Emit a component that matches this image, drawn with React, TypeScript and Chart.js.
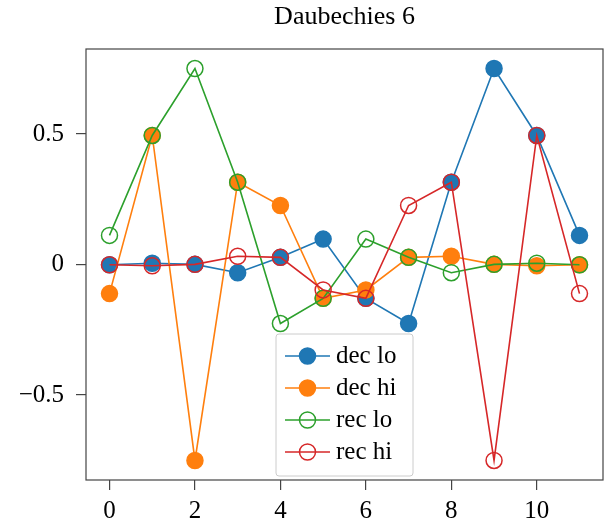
import { useEffect, useRef } from 'react';
import { Chart, registerables } from 'chart.js';

Chart.register(...registerables);

const TITLE = 'Daubechies 6';
const indices = [0, 1, 2, 3, 4, 5, 6, 7, 8, 9, 10, 11];
const xTicks = [0, 2, 4, 6, 8, 10];
const yTicks = [-0.5, 0, 0.5];

const decLo = [-0.0011, 0.0048, 0.0006, -0.0316, 0.0275, 0.0975, -0.1298, -0.2263, 0.3153, 0.7511, 0.4946, 0.1115];
const decHi = [-0.1115, 0.4946, -0.7511, 0.3153, 0.2263, -0.1298, -0.0975, 0.0275, 0.0316, 0.0006, -0.0048, -0.0011];
const recLo = [0.1115, 0.4946, 0.7511, 0.3153, -0.2263, -0.1298, 0.0975, 0.0275, -0.0316, 0.0006, 0.0048, -0.0011];
const recHi = [-0.0011, -0.0048, 0.0006, 0.0316, 0.0275, -0.0975, -0.1298, 0.2263, 0.3153, -0.7511, 0.4946, -0.1115];

const seriesNames = ['dec lo', 'dec hi', 'rec lo', 'rec hi'];
const seriesValues = [decLo, decHi, recLo, recHi];
const seriesColors = ['#1f77b4', '#ff7f0e', '#2ca02c', '#d62728'];
const seriesFilled = [true, true, false, false];

const FONT = "'Liberation Serif', 'Times New Roman', serif";
const FRAME = '#444';

const fmt = (v: number) => (v === 0 ? '0' : String(v).replace('-', '\u2212'));

const titlePlugin = {
  id: 'titleP',
  afterDraw(chart: any) {
    const { ctx, chartArea } = chart;
    ctx.save();
    ctx.fillStyle = '#000';
    ctx.font = `26px ${FONT}`;
    ctx.textAlign = 'center';
    ctx.textBaseline = 'alphabetic';
    ctx.fillText(TITLE, (chartArea.left + chartArea.right) / 2, 24);
    ctx.restore();
  },
};

const framePlugin = {
  id: 'frameP',
  afterDatasetsDraw(chart: any) {
    const { ctx, chartArea } = chart;
    ctx.save();
    ctx.strokeStyle = FRAME;
    ctx.lineWidth = 1.2;
    ctx.strokeRect(chartArea.left, chartArea.top, chartArea.right - chartArea.left, chartArea.bottom - chartArea.top);
    ctx.restore();
  },
};

const legendPlugin = {
  id: 'legendP',
  afterDraw(chart: any) {
    const { ctx, chartArea } = chart;
    const w = 137;
    const h = 142;
    const cx = (chartArea.left + chartArea.right) / 2;
    const x0 = cx - w / 2;
    const y0 = chartArea.bottom - 4 - h;
    ctx.save();
    ctx.beginPath();
    const r = 3;
    ctx.moveTo(x0 + r, y0);
    ctx.arcTo(x0 + w, y0, x0 + w, y0 + h, r);
    ctx.arcTo(x0 + w, y0 + h, x0, y0 + h, r);
    ctx.arcTo(x0, y0 + h, x0, y0, r);
    ctx.arcTo(x0, y0, x0 + w, y0, r);
    ctx.closePath();
    ctx.fillStyle = 'rgba(255,255,255,0.8)';
    ctx.fill();
    ctx.strokeStyle = '#cccccc';
    ctx.lineWidth = 1;
    ctx.stroke();
    seriesNames.forEach((name, i) => {
      const yy = y0 + 22 + i * 32;
      const lx0 = x0 + 9;
      const lx1 = x0 + 54;
      ctx.strokeStyle = seriesColors[i];
      ctx.lineWidth = 1.5;
      ctx.beginPath();
      ctx.moveTo(lx0, yy);
      ctx.lineTo(lx1, yy);
      ctx.stroke();
      ctx.beginPath();
      ctx.arc((lx0 + lx1) / 2, yy, 8, 0, Math.PI * 2);
      if (seriesFilled[i]) {
        ctx.fillStyle = seriesColors[i];
        ctx.fill();
      }
      ctx.stroke();
      ctx.fillStyle = '#000';
      ctx.font = `25px ${FONT}`;
      ctx.textAlign = 'left';
      ctx.textBaseline = 'middle';
      ctx.fillText(name, x0 + 60, yy);
    });
    ctx.restore();
  },
};

export default function App() {
  const ref = useRef<HTMLCanvasElement | null>(null);
  useEffect(() => {
    if (!ref.current) return;
    const datasets = seriesNames.map((name, i) => ({
      label: name,
      data: indices.map((x, k) => ({ x, y: seriesValues[i][k] })),
      borderColor: seriesColors[i],
      backgroundColor: seriesColors[i],
      borderWidth: 1.6,
      pointRadius: 8,
      pointHoverRadius: 8,
      pointBorderWidth: 1.5,
      pointBackgroundColor: seriesFilled[i] ? seriesColors[i] : 'rgba(0,0,0,0)',
      pointBorderColor: seriesColors[i],
      tension: 0,
      fill: false,
      order: seriesNames.length - 1 - i,
    }));
    const chart = new Chart(ref.current, {
      type: 'line',
      data: { datasets },
      plugins: [titlePlugin, framePlugin, legendPlugin],
      options: {
        responsive: false,
        animation: false,
        layout: { autoPadding: false, padding: { top: 49, right: 4, left: 0, bottom: 0 } },
        plugins: { legend: { display: false }, tooltip: { enabled: false }, title: { display: false } },
        scales: {
          x: {
            type: 'linear',
            min: -0.55,
            max: 11.55,
            afterFit: (s: any) => { s.height = 43; s.paddingLeft = 0; s.paddingRight = 0; },
            afterBuildTicks: (s: any) => { s.ticks = xTicks.map((v) => ({ value: v })); },
            ticks: { color: '#000', font: { family: FONT, size: 25 }, padding: 6, maxRotation: 0, callback: (v: any) => fmt(Number(v)) },
            grid: { display: true, drawOnChartArea: false, drawTicks: true, tickLength: 10, color: FRAME, lineWidth: 1.2 },
            border: { display: false },
          },
          y: {
            type: 'linear',
            min: -0.826,
            max: 0.826,
            afterFit: (s: any) => { s.width = 86; s.paddingTop = 0; s.paddingBottom = 0; },
            afterBuildTicks: (s: any) => { s.ticks = yTicks.map((v) => ({ value: v })); },
            ticks: { color: '#000', font: { family: FONT, size: 25 }, padding: 12, callback: (v: any) => fmt(Number(v)) },
            grid: { display: true, drawOnChartArea: false, drawTicks: true, tickLength: 10, color: FRAME, lineWidth: 1.2 },
            border: { display: false },
          },
        },
      },
    });
    return () => chart.destroy();
  }, []);
  return (
    <div style={{ position: 'absolute', left: 0, top: 0, width: 607, height: 523, background: '#fff' }}>
      <canvas ref={ref} width={607} height={523} style={{ display: 'block' }} />
    </div>
  );
}
